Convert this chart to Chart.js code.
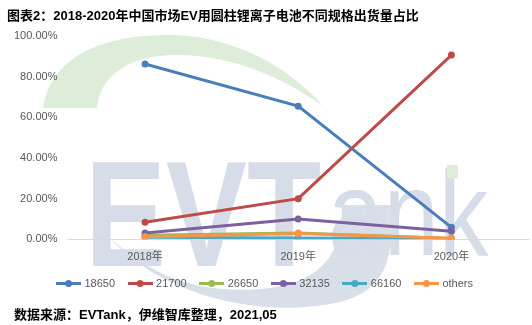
<!DOCTYPE html>
<html>
<head>
<meta charset="utf-8">
<script src="https://cdn.jsdelivr.net/npm/chart.js@4/dist/chart.umd.min.js"></script>
<style>
  body { margin: 0; background: #fff; }
  #wrap { position: relative; width: 532px; height: 325px; overflow: hidden; }
  #myChart { position: absolute; left: 0; top: 0; }
  .txt {
    position: absolute;
    font: bold 13px "Liberation Sans", "Noto Sans CJK SC", sans-serif;
    color: #000;
    white-space: nowrap;
  }
  #title { left: 7px; top: 5px; }
  #source { left: 14px; top: 304px; }
</style>
</head>
<body>
<div id="wrap">
  <canvas id="myChart" width="532" height="325"></canvas>
  <div class="txt" id="title">图表2：2018-2020年中国市场EV用圆柱锂离子电池不同规格出货量占比</div>
  <div class="txt" id="source">数据来源：EVTank，伊维智库整理，2021,05</div>
</div>
<script>
const years = ["2018年", "2019年", "2020年"];
const names = ["18650", "21700", "26650", "32135", "66160", "others"];
const colors = ["#4a7ebb", "#be4b48", "#98b954", "#7d60a0", "#46aac5", "#f79646"];

// shares in percent
const s18650 = [86.2, 65.5, 5.9];
const s21700 = [8.4, 20.0, 90.6];
const s26650 = [2.0, 3.1, 0.4];
const s32135 = [3.1, 10.0, 4.0];
const s66160 = [1.0, 0.6, 0.3];
const sOthers = [1.3, 2.8, 0.5];

const yTicks = [0, 20, 40, 60, 80, 100];

const series = [s18650, s21700, s26650, s32135, s66160, sOthers];

// little line + marker swatch for the legend
function swatch(color) {
  const c = document.createElement("canvas");
  c.width = 25;
  c.height = 9;
  const g = c.getContext("2d");
  g.strokeStyle = color;
  g.lineWidth = 3;
  g.beginPath();
  g.moveTo(0, 4.5);
  g.lineTo(25, 4.5);
  g.stroke();
  g.fillStyle = color;
  g.beginPath();
  g.arc(12.5, 4.5, 3.5, 0, Math.PI * 2);
  g.fill();
  return c;
}
const swatches = colors.map(swatch);

// faint EVTank logo behind the plot
const logo = {
  id: "logo",
  beforeDraw(chart) {
    const ctx = chart.ctx;
    ctx.save();

    // green arc over the letters
    ctx.fillStyle = "#ddedd9";
    ctx.beginPath();
    ctx.moveTo(43, 108);
    ctx.bezierCurveTo(52, 52, 110, 35, 168, 35);
    ctx.bezierCurveTo(232, 35, 288, 66, 323, 106);
    ctx.bezierCurveTo(272, 70, 222, 55, 176, 55);
    ctx.bezierCurveTo(130, 55, 100, 75, 97, 108);
    ctx.closePath();
    ctx.fill();

    // grey swoosh under the letters
    ctx.fillStyle = "#d9dfe9";
    ctx.beginPath();
    ctx.moveTo(108, 236);
    ctx.bezierCurveTo(160, 295, 260, 320, 340, 302);
    ctx.bezierCurveTo(385, 290, 393, 262, 393, 205);
    ctx.lineTo(342, 205);
    ctx.bezierCurveTo(342, 255, 322, 280, 270, 288);
    ctx.bezierCurveTo(200, 296, 150, 276, 108, 236);
    ctx.closePath();
    ctx.fill();

    ctx.fillStyle = "#d7dde8";
    ctx.save();
    ctx.translate(85, 225);
    ctx.scale(0.81, 1);
    ctx.font = "bold 150px 'Liberation Sans'";
    ctx.fillText("EVT", 0, 0);
    ctx.restore();

    ctx.save();
    ctx.translate(328, 222);
    ctx.scale(0.83, 1);
    ctx.font = "120px 'Liberation Sans'";
    ctx.fillText("ank", 0, 0);
    ctx.restore();

    ctx.fillStyle = "#ddedd9";
    ctx.fillRect(447, 165, 11, 13);

    ctx.restore();
  },
};

const ctx = document.getElementById("myChart");

const chartInstance = new Chart(ctx, {
  type: "line",
  data: {
    labels: years,
    datasets: series.map((data, i) => ({
      label: names[i],
      data: data,
      borderColor: colors[i],
      backgroundColor: colors[i],
      borderWidth: 3,
      pointRadius: 3.5,
      pointHoverRadius: 3.5,
      pointBorderWidth: 0,
      tension: 0,
      order: series.length - i,
    })),
  },
  options: {
    responsive: false,
    animation: false,
    layout: {
      padding: { top: 36, left: 3, right: 4, bottom: 26 },
    },
    scales: {
      x: {
        offset: true,
        grid: { display: false, drawTicks: false },
        border: { display: true, color: "#d9d9d9", width: 1 },
        ticks: {
          padding: 11,
          color: "#595959",
          font: { family: "'Liberation Sans', 'Noto Sans CJK SC'", size: 11 },
        },
        afterFit(scale) {
          scale.height -= 11;
        },
      },
      y: {
        min: 0,
        max: 100,
        afterBuildTicks(scale) {
          scale.ticks = yTicks.map((v) => ({ value: v }));
        },
        grid: { display: false, drawTicks: false },
        border: { display: false },
        ticks: {
          padding: 11,
          color: "#595959",
          font: { family: "'Liberation Sans'", size: 11 },
          callback: (v) => v.toFixed(2) + "%",
        },
      },
    },
    plugins: {
      title: { display: false },
      tooltip: { enabled: false },
      legend: {
        position: "bottom",
        labels: {
          usePointStyle: true,
          pointStyleWidth: 21,
          padding: 14.5,
          color: "#595959",
          font: { family: "'Liberation Sans'", size: 11 },
          sort: (a, b) => a.datasetIndex - b.datasetIndex,
          generateLabels(chart) {
            const items = Chart.defaults.plugins.legend.labels.generateLabels(chart);
            items.forEach((it) => {
              it.pointStyle = swatches[it.datasetIndex];
            });
            return items;
          },
        },
      },
    },
  },
  plugins: [logo],
});
</script>
</body>
</html>
